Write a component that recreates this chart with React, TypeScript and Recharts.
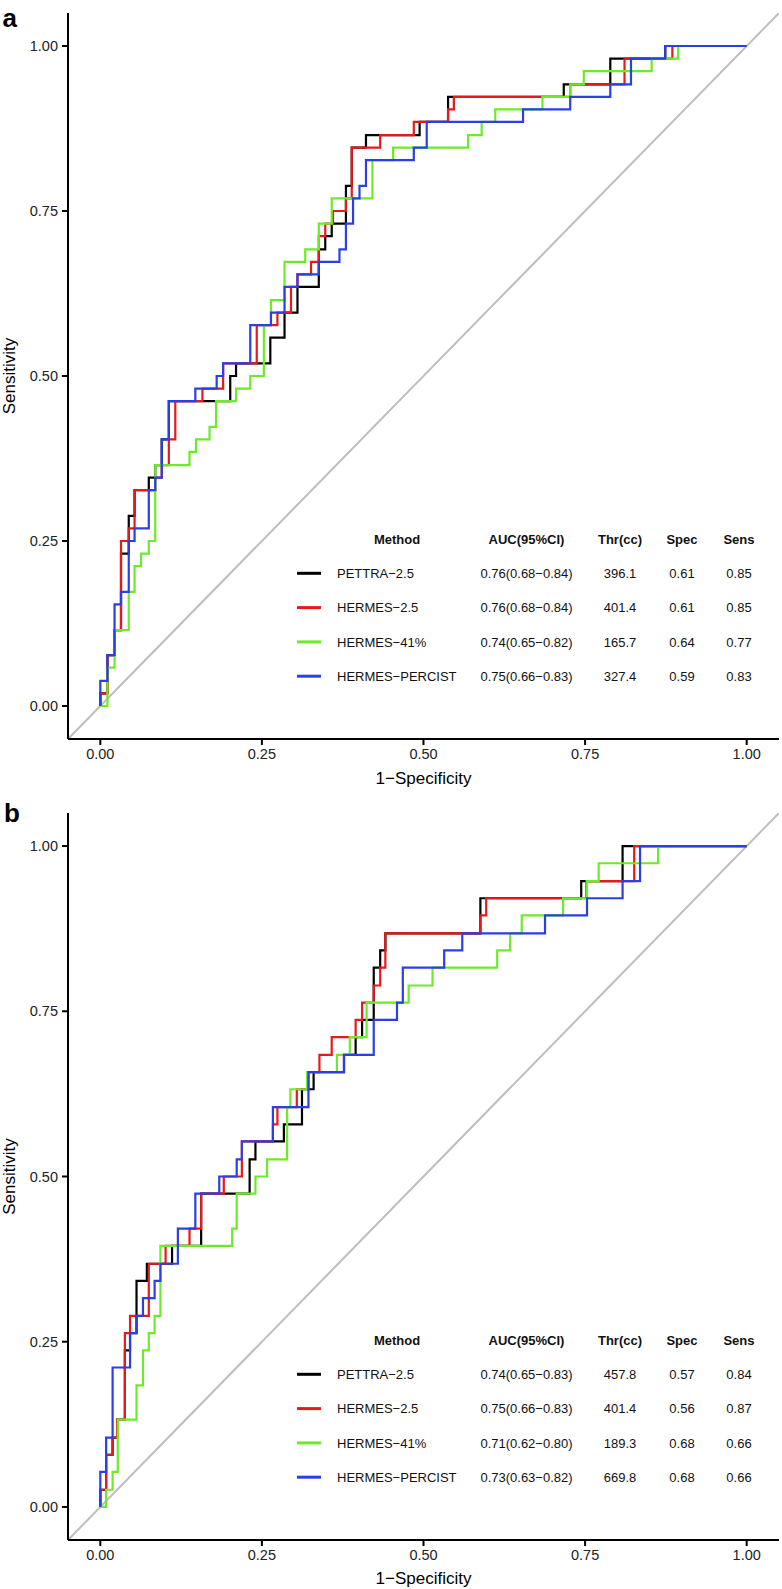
import { LineChart, Line, XAxis, YAxis } from "recharts";

type Pt = [number, number];

// ROC step vertices: [1 - specificity, sensitivity] at the top of each vertical step
const A_PETTRA: Pt[] = [
  [0, 0], [0, 0.019], [0.011, 0.077], [0.022, 0.115], [0.032, 0.231], [0.044, 0.288],
  [0.053, 0.327], [0.075, 0.346], [0.085, 0.365], [0.095, 0.404], [0.106, 0.462],
  [0.201, 0.5], [0.21, 0.519], [0.263, 0.558], [0.285, 0.596], [0.305, 0.635],
  [0.338, 0.692], [0.348, 0.712], [0.358, 0.731], [0.38, 0.788], [0.389, 0.846],
  [0.411, 0.865], [0.494, 0.885], [0.538, 0.923], [0.717, 0.942], [0.789, 0.981],
  [0.874, 1], [1, 1],
];
const A_HERMES25: Pt[] = [
  [0, 0], [0, 0.019], [0.011, 0.077], [0.022, 0.115], [0.032, 0.25], [0.044, 0.269],
  [0.053, 0.327], [0.085, 0.346], [0.095, 0.365], [0.106, 0.404], [0.116, 0.462],
  [0.158, 0.481], [0.19, 0.519], [0.242, 0.577], [0.274, 0.596], [0.295, 0.635],
  [0.305, 0.654], [0.326, 0.673], [0.338, 0.712], [0.348, 0.731], [0.36, 0.75],
  [0.38, 0.769], [0.389, 0.846], [0.433, 0.865], [0.485, 0.885], [0.538, 0.904],
  [0.547, 0.923], [0.727, 0.942], [0.811, 0.981], [0.885, 1], [1, 1],
];
const A_HERMES41: Pt[] = [
  [0, 0], [0.011, 0.058], [0.022, 0.115], [0.044, 0.173], [0.053, 0.212], [0.063, 0.231],
  [0.075, 0.25], [0.085, 0.365], [0.138, 0.385], [0.148, 0.404], [0.169, 0.423],
  [0.179, 0.462], [0.21, 0.481], [0.232, 0.5], [0.253, 0.577], [0.264, 0.615],
  [0.285, 0.673], [0.317, 0.692], [0.338, 0.731], [0.358, 0.769], [0.421, 0.827],
  [0.453, 0.846], [0.569, 0.865], [0.59, 0.885], [0.611, 0.904], [0.684, 0.923],
  [0.727, 0.942], [0.748, 0.962], [0.853, 0.981], [0.894, 1], [1, 1],
];
const A_PERCIST: Pt[] = [
  [0, 0], [0, 0.038], [0.011, 0.077], [0.022, 0.154], [0.032, 0.173], [0.044, 0.25],
  [0.053, 0.269], [0.075, 0.327], [0.085, 0.346], [0.095, 0.404], [0.106, 0.462],
  [0.147, 0.481], [0.18, 0.5], [0.19, 0.519], [0.232, 0.577], [0.264, 0.596],
  [0.285, 0.635], [0.305, 0.654], [0.338, 0.673], [0.37, 0.692], [0.38, 0.731],
  [0.391, 0.769], [0.401, 0.788], [0.411, 0.827], [0.485, 0.846], [0.505, 0.885],
  [0.654, 0.904], [0.727, 0.923], [0.789, 0.942], [0.821, 0.981], [0.874, 1], [1, 1],
];

const B_PETTRA: Pt[] = [
  [0, 0], [0, 0.026], [0.009, 0.079], [0.019, 0.105], [0.026, 0.132], [0.038, 0.237],
  [0.046, 0.263], [0.056, 0.342], [0.072, 0.368], [0.111, 0.395], [0.156, 0.474],
  [0.231, 0.526], [0.24, 0.553], [0.284, 0.579], [0.312, 0.632], [0.33, 0.658],
  [0.377, 0.684], [0.395, 0.711], [0.405, 0.737], [0.423, 0.816], [0.433, 0.842],
  [0.441, 0.868], [0.588, 0.921], [0.744, 0.947], [0.808, 1], [1, 1],
];
const B_HERMES25: Pt[] = [
  [0, 0], [0, 0.026], [0.009, 0.079], [0.019, 0.105], [0.026, 0.132], [0.038, 0.263],
  [0.046, 0.289], [0.075, 0.368], [0.101, 0.395], [0.138, 0.421], [0.156, 0.474],
  [0.191, 0.5], [0.219, 0.553], [0.267, 0.579], [0.274, 0.605], [0.304, 0.632],
  [0.322, 0.658], [0.339, 0.684], [0.358, 0.711], [0.395, 0.737], [0.405, 0.763],
  [0.423, 0.789], [0.433, 0.816], [0.441, 0.868], [0.588, 0.895], [0.597, 0.921],
  [0.752, 0.947], [0.826, 1], [1, 1],
];
const B_HERMES41: Pt[] = [
  [0, 0], [0.009, 0.026], [0.019, 0.053], [0.027, 0.132], [0.056, 0.184], [0.066, 0.237],
  [0.075, 0.263], [0.084, 0.289], [0.093, 0.395], [0.204, 0.421], [0.211, 0.474],
  [0.24, 0.5], [0.258, 0.526], [0.289, 0.605], [0.294, 0.632], [0.32, 0.658],
  [0.366, 0.684], [0.386, 0.711], [0.412, 0.763], [0.477, 0.789], [0.514, 0.816],
  [0.614, 0.842], [0.634, 0.868], [0.652, 0.895], [0.716, 0.921], [0.753, 0.947],
  [0.771, 0.974], [0.863, 1], [1, 1],
];
const B_PERCIST: Pt[] = [
  [0, 0], [0, 0.053], [0.009, 0.105], [0.019, 0.211], [0.046, 0.263], [0.056, 0.289],
  [0.066, 0.316], [0.084, 0.342], [0.093, 0.368], [0.12, 0.421], [0.147, 0.474],
  [0.184, 0.5], [0.211, 0.526], [0.219, 0.553], [0.267, 0.605], [0.322, 0.658],
  [0.377, 0.684], [0.423, 0.737], [0.459, 0.763], [0.468, 0.816], [0.532, 0.842],
  [0.56, 0.868], [0.688, 0.895], [0.753, 0.921], [0.808, 0.947], [0.835, 1], [1, 1],
];

const DIAGONAL: Pt[] = [[-0.05, -0.05], [1.05, 1.05]];
const TICKS = [0, 0.25, 0.5, 0.75, 1];

const METHODS = ["PETTRA\u22122.5", "HERMES\u22122.5", "HERMES\u221241%", "HERMES\u2212PERCIST"];
const COLORS = ["#000000", "#E8191B", "#6DEB2A", "#2B3FE6"];
const HEADERS = ["Method", "AUC(95%CI)", "Thr(cc)", "Spec", "Sens"];

const A_AUC = ["0.76(0.68\u22120.84)", "0.76(0.68\u22120.84)", "0.74(0.65\u22120.82)", "0.75(0.66\u22120.83)"];
const A_THR = ["396.1", "401.4", "165.7", "327.4"];
const A_SPEC = ["0.61", "0.61", "0.64", "0.59"];
const A_SENS = ["0.85", "0.85", "0.77", "0.83"];

const B_AUC = ["0.74(0.65\u22120.83)", "0.75(0.66\u22120.83)", "0.71(0.62\u22120.80)", "0.73(0.63\u22120.82)"];
const B_THR = ["457.8", "401.4", "189.3", "669.8"];
const B_SPEC = ["0.57", "0.56", "0.68", "0.68"];
const B_SENS = ["0.84", "0.87", "0.66", "0.66"];

const FONT = '"Liberation Sans", Arial, Helvetica, sans-serif';
const W = 782;

const toRows = (pts: Pt[]) => pts.map(([x, y]) => ({ x, y }));
const fmt = (v: number) => v.toFixed(2);

function RocPanel({ curves, top, height, marginTop, plotH }: {
  curves: Pt[][]; top: number; height: number; marginTop: number; plotH: number;
}) {
  const axisStyle = { stroke: "#000", strokeWidth: 2 };
  return (
    <div style={{ position: "absolute", left: 0, top, width: W, height }}>
      <LineChart
        width={W}
        height={height}
        margin={{ top: marginTop, right: 3, bottom: height - marginTop - plotH - 30, left: 8 }}
      >
        <XAxis
          type="number"
          dataKey="x"
          domain={[-0.05, 1.05]}
          ticks={TICKS}
          tickFormatter={fmt}
          height={30}
          tickSize={6}
          tickMargin={4}
          axisLine={axisStyle}
          tickLine={axisStyle}
          tick={{ fill: "#222", fontSize: 14.5 }}
          allowDataOverflow
        />
        <YAxis
          type="number"
          dataKey="y"
          domain={[-0.05, 1.05]}
          ticks={TICKS}
          tickFormatter={fmt}
          width={60}
          tickSize={6}
          tickMargin={4}
          axisLine={axisStyle}
          tickLine={axisStyle}
          tick={{ fill: "#222", fontSize: 14.5 }}
          allowDataOverflow
        />
        <Line
          data={toRows(DIAGONAL)}
          dataKey="y"
          type="linear"
          stroke="#bdbdbd"
          strokeWidth={2}
          dot={false}
          activeDot={false}
          isAnimationActive={false}
        />
        {curves.map((pts, i) => (
          <Line
            key={METHODS[i]}
            data={toRows(pts)}
            dataKey="y"
            name={METHODS[i]}
            type="stepAfter"
            stroke={COLORS[i]}
            strokeWidth={2.2}
            dot={false}
            activeDot={false}
            isAnimationActive={false}
          />
        ))}
      </LineChart>
    </div>
  );
}

function Table({ headerY, auc, thr, spec, sens }: {
  headerY: number; auc: string[]; thr: string[]; spec: string[]; sens: string[];
}) {
  const cols = [397, 526.5, 620, 682, 739];
  const rowGap = 34.3;
  const base = 4.7;
  return (
    <g fontFamily={FONT} fontSize={13} fill="#111">
      {HEADERS.map((h, i) => (
        <text key={h} x={cols[i]} y={headerY + base} textAnchor="middle" fontWeight={700}>{h}</text>
      ))}
      {METHODS.map((m, i) => {
        const cy = headerY + rowGap * (i + 1);
        return (
          <g key={m}>
            <line x1={297} x2={321} y1={cy} y2={cy} stroke={COLORS[i]} strokeWidth={3} />
            <text x={337} y={cy + base}>{m}</text>
            <text x={cols[1]} y={cy + base} textAnchor="middle">{auc[i]}</text>
            <text x={cols[2]} y={cy + base} textAnchor="middle">{thr[i]}</text>
            <text x={cols[3]} y={cy + base} textAnchor="middle">{spec[i]}</text>
            <text x={cols[4]} y={cy + base} textAnchor="middle">{sens[i]}</text>
          </g>
        );
      })}
    </g>
  );
}

export default function App() {
  return (
    <div
      style={{
        position: "absolute",
        left: 0,
        top: 0,
        width: W,
        height: 1589,
        background: "#fff",
        fontFamily: FONT,
      }}
    >
      <RocPanel curves={[A_PETTRA, A_HERMES25, A_HERMES41, A_PERCIST]} top={0} height={790} marginTop={13} plotH={726} />
      <RocPanel curves={[B_PETTRA, B_HERMES25, B_HERMES41, B_PERCIST]} top={790} height={799} marginTop={23} plotH={727} />
      <svg
        width={W}
        height={1589}
        style={{ position: "absolute", left: 0, top: 0, pointerEvents: "none" }}
      >
        <g fontFamily={FONT} fill="#000">
          <text x={2.5} y={27} fontSize={26} fontWeight={700}>a</text>
          <text x={4} y={822} fontSize={26} fontWeight={700}>b</text>
          <text x={15} y={376} fontSize={17} textAnchor="middle" transform="rotate(-90, 15, 376)">Sensitivity</text>
          <text x={15} y={1176.5} fontSize={17} textAnchor="middle" transform="rotate(-90, 15, 1176.5)">Sensitivity</text>
          <text x={423.5} y={784} fontSize={17} textAnchor="middle">1{"\u2212"}Specificity</text>
          <text x={423.5} y={1584} fontSize={17} textAnchor="middle">1{"\u2212"}Specificity</text>
        </g>
        <Table headerY={539} auc={A_AUC} thr={A_THR} spec={A_SPEC} sens={A_SENS} />
        <Table headerY={1340} auc={B_AUC} thr={B_THR} spec={B_SPEC} sens={B_SENS} />
      </svg>
    </div>
  );
}
